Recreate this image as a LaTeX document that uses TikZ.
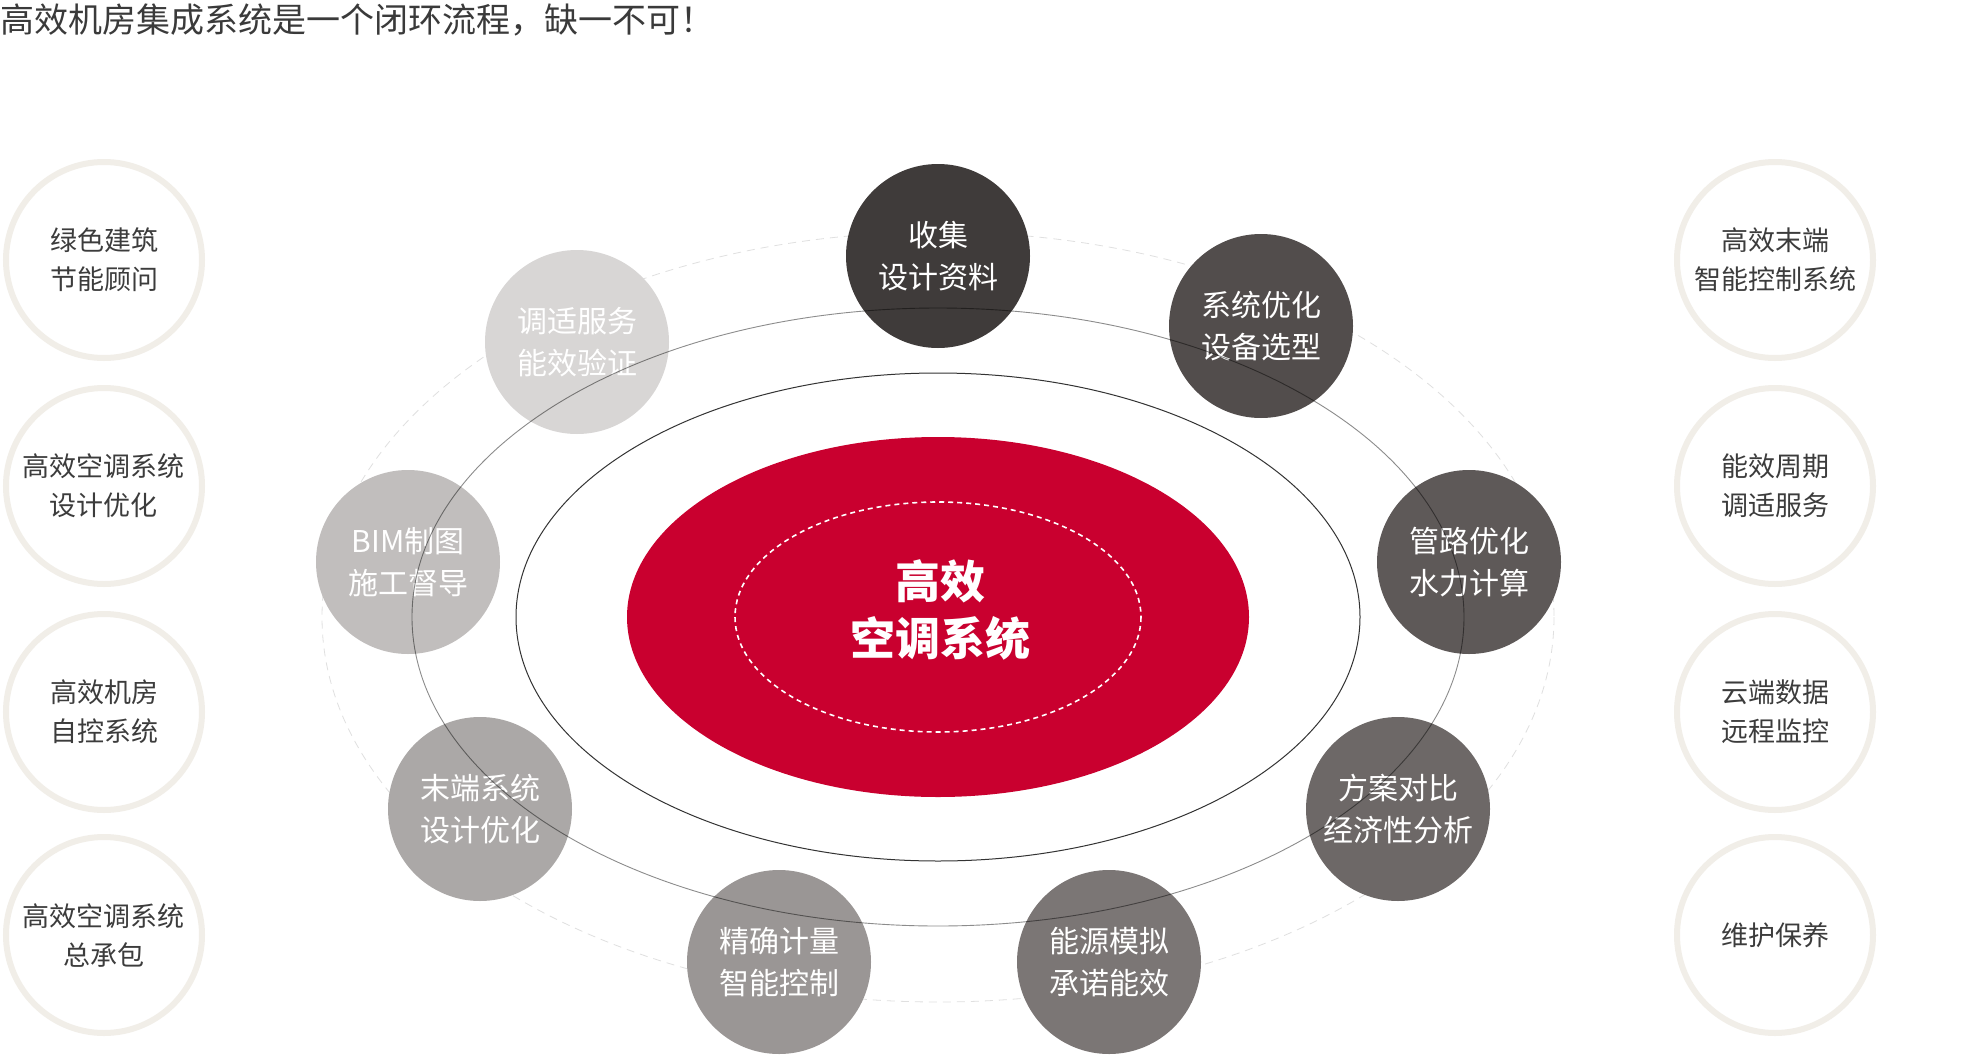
\documentclass[tikz,border=0pt]{standalone}
\usepackage{fontspec}
\setmainfont{Noto Sans CJK SC}
\definecolor{redc}{HTML}{C9002F}
\definecolor{titlec}{HTML}{3A3A3A}
\definecolor{sidering}{HTML}{F1EEE8}
\definecolor{sidetext}{HTML}{3C3C3C}
\definecolor{cA}{HTML}{3F3B3A}
\definecolor{cB}{HTML}{524D4C}
\definecolor{cC}{HTML}{5E5958}
\definecolor{cD}{HTML}{6D6867}
\definecolor{cE}{HTML}{7B7675}
\definecolor{cF}{HTML}{9A9695}
\definecolor{cG}{HTML}{ABA8A7}
\definecolor{cH}{HTML}{C1BEBD}
\definecolor{cI}{HTML}{D8D6D5}
\tikzset{
  stepnode/.style={circle, minimum size=184pt, inner sep=0pt, text=white, align=center,
    font=\fontsize{30}{42}\selectfont},
  sidenode/.style={circle, minimum size=196pt, inner sep=0pt, draw=sidering, line width=6pt,
    text=sidetext, align=center, font=\fontsize{27}{39}\selectfont},
}
\begin{document}
\begin{tikzpicture}[x=1pt,y=-1pt]
\useasboundingbox (0,0) rectangle (1979,1055);
\fill[white] (0,0) rectangle (1979,1055);
% title
\node[anchor=west, inner sep=0pt, text=titlec, font=\fontsize{34}{40}\selectfont] (title) at (0,20) {高效机房集成系统是一个闭环流程，缺一不可！};
% rings
\coordinate (c) at (938,617);
\draw[draw=black!12, dashed, dash pattern=on 8pt off 6pt, line width=0.8pt] (c) ellipse [x radius=616, y radius=385];
\fill[redc] (c) ellipse [x radius=311, y radius=180];
\draw[white, dashed, dash pattern=on 5pt off 4pt, line width=1.6pt] (c) ellipse [x radius=203, y radius=115];
\draw[black!80, line width=1pt] (c) ellipse [x radius=422, y radius=244];
\node[text=white, align=center, font=\bfseries\fontsize{45}{57}\selectfont] (core) at (940,610) {高效\\空调系统};
% step circles
\node[stepnode, fill=cA] (s1) at (938,256) {收集\\设计资料};
\node[stepnode, fill=cB] (s2) at (1261,326) {系统优化\\设备选型};
\node[stepnode, fill=cC] (s3) at (1469,562) {管路优化\\水力计算};
\node[stepnode, fill=cD] (s4) at (1398,809) {方案对比\\经济性分析};
\node[stepnode, fill=cE] (s5) at (1109,962) {能源模拟\\承诺能效};
\node[stepnode, fill=cF] (s6) at (779,962) {精确计量\\智能控制};
\node[stepnode, fill=cG] (s7) at (480,809) {末端系统\\设计优化};
\node[stepnode, fill=cH] (s8) at (408,562) {BIM制图\\施工督导};
\node[stepnode, fill=cI] (s9) at (577,342) {调适服务\\能效验证};
% middle ring drawn over circles
\begin{scope}[blend mode=multiply]
\draw[black!45, line width=0.9pt] (c) ellipse [x radius=526, y radius=309];
\end{scope}
% side circles
\node[sidenode] (l1) at (104,260) {绿色建筑\\节能顾问};
\node[sidenode] (l2) at (104,486) {高效空调系统\\设计优化};
\node[sidenode] (l3) at (104,712) {高效机房\\自控系统};
\node[sidenode] (l4) at (104,935) {高效空调系统\\总承包};
\node[sidenode] (r1) at (1775,260) {高效末端\\智能控制系统};
\node[sidenode] (r2) at (1775,486) {能效周期\\调适服务};
\node[sidenode] (r3) at (1775,712) {云端数据\\远程监控};
\node[sidenode] (r4) at (1775,935) {维护保养};
\end{tikzpicture}
\end{document}
